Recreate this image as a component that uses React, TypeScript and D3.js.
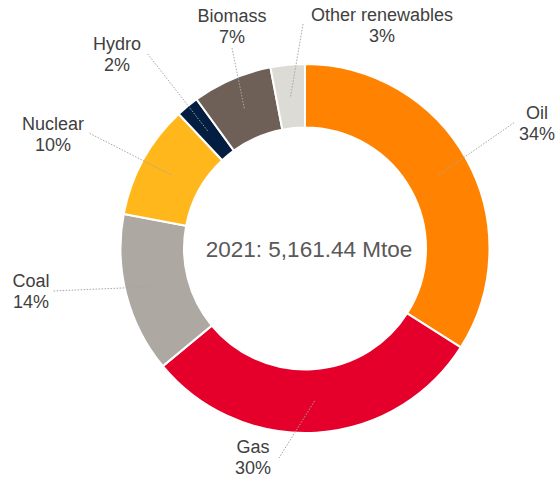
import React from "react";
import * as d3 from "d3";

const categories = ["Oil", "Gas", "Coal", "Nuclear", "Hydro", "Biomass", "Other renewables"];
const shares = [34, 30, 14, 10, 2, 7, 3];
const colors = ["#FF8300", "#E4002B", "#AEA8A3", "#FFB71B", "#041E42", "#6E6057", "#DDDBD6"];
const centerLabel = "2021: 5,161.44 Mtoe";

// annotation layout (offsets from the pie centre): label anchor and leader end
const labelLayout = [
  { lx: 232, ly: -129.5, ex: 210, ey: -126.5 },
  { lx: -52, ly: 204.5, ex: -26, ey: 209.5 },
  { lx: -274, ly: 38.5, ex: -252, ey: 42.5 },
  { lx: -252, ly: -118.5, ex: -216, ey: -115.5 },
  { lx: -188, ly: -198.5, ex: -158, ey: -195.5 },
  { lx: -73, ly: -226.5, ex: -73, ey: -200.5 },
  { lx: 77, ly: -227.5, ex: -2, ey: -224.5 },
];

const W = 557;
const H = 482;
const cx = 305;
const cy = 248.5;
const outerR = 184.5;
const innerR = 121;

export default function App() {
  const data = categories.map((c, i) => ({ name: c, value: shares[i], color: colors[i] }));
  const pie = d3.pie<any>().value((d) => d.value).sort(null).startAngle(0).endAngle(2 * Math.PI);
  const arcs = pie(data);
  const arc = d3.arc<any>().innerRadius(innerR).outerRadius(outerR);

  return (
    <svg
      width={W}
      height={H}
      style={{ position: "absolute", left: 0, top: 0, background: "#fff" }}
      fontFamily="'Liberation Sans', Arial, sans-serif"
    >
      <g transform={`translate(${cx},${cy})`}>
        {arcs.map((a, i) => (
          <path key={i} d={arc(a) as string} fill={a.data.color} stroke="#fff" strokeWidth={2} />
        ))}
        {arcs.map((a, i) => {
          const [mx, my] = arc.centroid(a);
          const L = labelLayout[i];
          return (
            <line
              key={"l" + i}
              x1={mx}
              y1={my}
              x2={L.ex}
              y2={L.ey}
              stroke="#A6A6A6"
              strokeWidth={1}
              strokeDasharray="1.5,1.5"
            />
          );
        })}
        {arcs.map((a, i) => {
          const L = labelLayout[i];
          return (
            <text key={"t" + i} x={L.lx} y={L.ly} textAnchor="middle" fontSize={18} fill="#404040">
              <tspan x={L.lx} y={L.ly}>{a.data.name}</tspan>
              <tspan x={L.lx} y={L.ly + 21}>{`${a.data.value}%`}</tspan>
            </text>
          );
        })}
        <text x={4} y={8} textAnchor="middle" fontSize={22.5} fill="#595959">
          {centerLabel}
        </text>
      </g>
    </svg>
  );
}
